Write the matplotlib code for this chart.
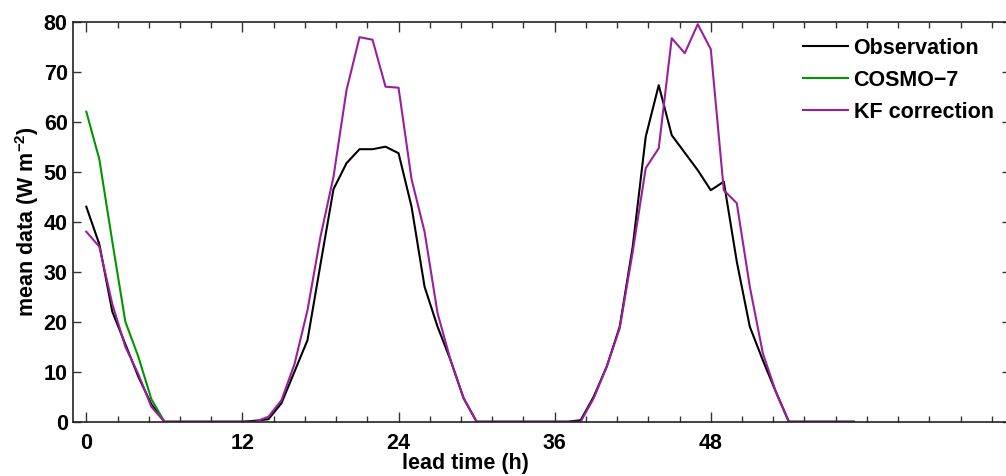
import matplotlib.pyplot as plt
import numpy as np
from matplotlib.ticker import FixedLocator

plt.rcParams['font.family'] = ['Liberation Sans', 'DejaVu Sans']
plt.rcParams['font.weight'] = 'bold'
plt.rcParams['mathtext.default'] = 'regular'

# lead time (h) and hourly mean values (W m-2)
hours = np.arange(0, 60)
obs = [43, 35.5, 22, 15.5, 9, 3.5, 0, 0, 0, 0, 0, 0, 0, 0.2, 0.5,
       3.7, 10, 16.3, 31.5, 46.5, 51.7, 54.5, 54.5, 55, 53.7, 43, 27, 19, 12.3, 4.7,
       0, 0, 0, 0, 0, 0, 0, 0, 0.3, 5, 11, 19, 35, 57, 67.3,
       57.3, 53.8, 50.3, 46.3, 48, 32, 19, 12.3, 6, 0, 0, 0, 0, 0, 0]
kf = [38, 35, 23.5, 15, 9.5, 3, 0, 0, 0, 0, 0, 0, 0, 0, 1,
      4.3, 11.5, 22.3, 37, 49, 66.3, 76.9, 76.4, 67, 66.8, 48.5, 38, 21.7, 12.3, 4.7,
      0, 0, 0, 0, 0, 0, 0, 0, 0, 4.7, 11, 18.7, 34, 50.7, 54.7,
      76.7, 73.7, 79.5, 74.5, 46.3, 43.7, 27, 13.7, 6, 0, 0, 0, 0, 0, 0]
cosmo_hours = np.arange(0, 7)
cosmo = [62, 52.5, 36, 20, 13, 4.5, 0]

major_x = [0, 12, 24, 36, 48]
minor_x = np.arange(0, 30) * 2.4
yticks = np.arange(0, 81, 10)

fs = 15.5

fig = plt.figure(figsize=(10.06, 4.76), dpi=100)
ax = fig.add_axes([73.3 / 1006, 54.3 / 476, 936.7 / 1006, 400 / 476])

ax.plot(hours, obs, color='black', lw=1.5, label='Observation')
ax.plot(cosmo_hours, cosmo, color='#009600', lw=1.5, label='COSMO\u22127')
ax.plot(hours, kf, color='#9a1e9e', lw=1.5, label='KF correction')

ax.set_xlim(-1, 71)
ax.set_ylim(0, 80)
ax.xaxis.set_major_locator(FixedLocator(major_x))
ax.xaxis.set_minor_locator(FixedLocator([m for m in minor_x if m not in major_x]))
ax.set_yticks(yticks)
ax.tick_params(which='both', direction='in', top=True, right=True,
               labelsize=fs, width=1, color='#333333')
ax.tick_params(axis='x', which='major', length=7, pad=8)
ax.tick_params(axis='x', which='minor', length=4.5)
ax.tick_params(axis='y', length=6, pad=4)
for s in ax.spines.values():
    s.set_linewidth(1.2)
    s.set_color('#222222')

ax.set_xlabel('lead time (h)', fontsize=fs, fontweight='bold')
ax.xaxis.set_label_coords(0.419, -0.079)
ax.set_ylabel('mean data (W m$^{-2}$)', fontsize=fs, fontweight='bold')
ax.yaxis.set_label_coords(-0.035, 0.5)

ax.legend(loc='upper left', bbox_to_anchor=(803 / 1006, 1 - 38 / 476),
          bbox_transform=fig.transFigure, frameon=False, fontsize=fs,
          handlelength=2.1, handletextpad=0.25, labelspacing=0.5,
          borderpad=0, borderaxespad=0)

fig.savefig('out.png', dpi=100)
